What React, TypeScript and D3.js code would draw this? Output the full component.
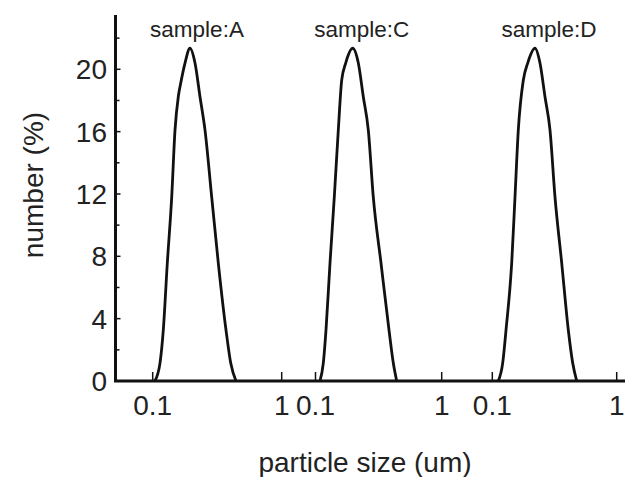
import React from "react";
import * as d3 from "d3";

// ---- data ----
const sampleNames = ["sample:A", "sample:C", "sample:D"];

const sizeA = [0.104, 0.1139, 0.1208, 0.1298, 0.1404, 0.1489, 0.1579, 0.1648, 0.178, 0.1946, 0.2128, 0.2326, 0.2544, 0.2867, 0.3225, 0.37, 0.4025, 0.4423];
const numA = [0, 1.15, 3.27, 7.57, 11.8, 16.1, 18.24, 19.1, 20.4, 21.35, 20.4, 18.24, 16.1, 11.8, 7.57, 3.27, 1.15, 0];

const sizeC = [0.1086, 0.1153, 0.1211, 0.1303, 0.1409, 0.1516, 0.1613, 0.1735, 0.1972, 0.2184, 0.2392, 0.2621, 0.2871, 0.3304, 0.3823, 0.4136, 0.4399];
const numC = [0, 1.15, 3.27, 7.57, 11.8, 16.1, 19.3, 20.4, 21.35, 20.4, 18.24, 16.1, 11.8, 7.57, 3.27, 1.15, 0];

const sizeD = [0.1117, 0.1212, 0.1289, 0.1432, 0.1522, 0.1618, 0.1775, 0.1926, 0.2204, 0.2417, 0.2652, 0.291, 0.3192, 0.3614, 0.4083, 0.4429, 0.477];
const numD = [0, 1.15, 3.27, 7.57, 11.8, 16.1, 19.3, 20.4, 21.35, 20.4, 18.24, 16.1, 11.8, 7.57, 3.27, 1.15, 0];

const xTickValues = [0.1, 1];
const xTickLabels = ["0.1", "1"];
const yMajorTicks = [0, 4, 8, 12, 16, 20];
const yMinorTicks = [2, 6, 10, 14, 18, 22];

const series = [
  { name: sampleNames[0], x: sizeA, y: numA },
  { name: sampleNames[1], x: sizeC, y: numC },
  { name: sampleNames[2], x: sizeD, y: numD },
];

// ---- layout ----
const W = 625;
const H = 477;
const axisX = 115.5;
const axisY = 381;
const axisTop = 15;
const panelRanges: [number, number][] = [
  [152.7, 281.7],
  [315.5, 441.7],
  [492.3, 616.7],
];
const labelOffsets = [7, 9, 14];
const FONT = "'Liberation Sans', Arial, Helvetica, sans-serif";
const INK = "#111";

export default function App() {
  const y = d3.scaleLinear().domain([0, 20]).range([axisY, 69.3]);

  return (
    <svg
      width={W}
      height={H}
      style={{ position: "absolute", left: 0, top: 0, background: "#fff" }}
      fontFamily={FONT}
    >
      <rect x={0} y={0} width={W} height={H} fill="#fff" />

      {/* curves */}
      {series.map((s, i) => {
        const x = d3.scaleLog().domain([0.1, 1]).range(panelRanges[i]);
        const pts = s.x.map((v, k) => [v, s.y[k]] as [number, number]);
        const line = d3
          .line<[number, number]>()
          .x((d) => x(d[0]))
          .y((d) => y(d[1]))
          .curve(d3.curveMonotoneX);
        const peak = pts.reduce((a, b) => (b[1] > a[1] ? b : a));
        return (
          <g key={s.name}>
            <path d={line(pts) || ""} fill="none" stroke={INK} strokeWidth={2.8} strokeLinejoin="round" />
            <text
              x={x(peak[0]) + labelOffsets[i]}
              y={37}
              fontSize={22.5}
              textAnchor="middle"
              fill="#222"
            >
              {s.name}
            </text>
            {xTickValues.map((t, k) => (
              <g key={k}>
                <line x1={x(t)} x2={x(t)} y1={axisY} y2={axisY - 9} stroke={INK} strokeWidth={1.5} />
                <text x={x(t)} y={415} fontSize={28} textAnchor="middle" fill="#222">
                  {xTickLabels[k]}
                </text>
              </g>
            ))}
          </g>
        );
      })}

      {/* y ticks */}
      {yMajorTicks.map((t) => (
        <g key={"M" + t}>
          <line x1={axisX} x2={axisX + 5} y1={y(t)} y2={y(t)} stroke={INK} strokeWidth={1.5} />
          <text x={107} y={y(t)} dy="0.36em" fontSize={28} textAnchor="end" fill="#222">
            {t}
          </text>
        </g>
      ))}
      {yMinorTicks.map((t) => (
        <line key={"m" + t} x1={axisX} x2={axisX + 4} y1={y(t)} y2={y(t)} stroke={INK} strokeWidth={1.5} />
      ))}

      {/* axes */}
      <line x1={axisX} x2={axisX} y1={axisTop} y2={axisY} stroke={INK} strokeWidth={3} />
      <line x1={axisX - 1.5} x2={W} y1={axisY} y2={axisY} stroke={INK} strokeWidth={3} />

      {/* axis titles */}
      <text x={365} y={472} fontSize={28} textAnchor="middle" fill="#222">
        particle size (um)
      </text>
      <text
        transform={`translate(43,185) rotate(-90)`}
        fontSize={28}
        textAnchor="middle"
        fill="#222"
      >
        number (%)
      </text>
    </svg>
  );
}
